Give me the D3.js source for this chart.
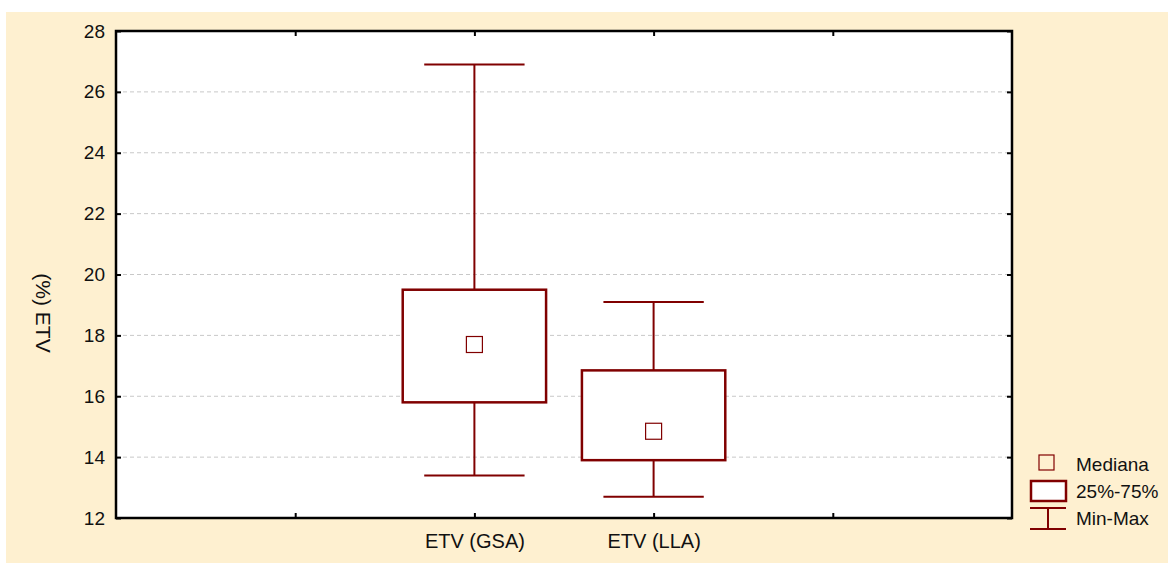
<!DOCTYPE html>
<html lang="pt">
<head>
<meta charset="UTF-8">
<title>ETV box plot</title>
<script src="https://d3js.org/d3.v7.min.js"></script>
<style>
    body { margin: 0; background: #fff; font-family: Arial, "Liberation Sans", sans-serif; }
    svg { display: block; }
</style>
</head>
<body>
<svg></svg>
<script>
    // dados
    const categories = ["ETV (GSA)", "ETV (LLA)"];
    const mins    = [13.4, 12.7];
    const q1s     = [15.8, 13.9];
    const medians = [17.7, 14.85];
    const q3s     = [19.5, 16.85];
    const maxs    = [26.9, 19.1];
    const yTicks  = [12, 14, 16, 18, 20, 22, 24, 26, 28];
    const legendLabels = ["Mediana", "25%-75%", "Min-Max"];

    const W = 1171, H = 563;
    const red = "#800000";
    const font = "Arial, 'Liberation Sans', sans-serif";
    const m = { left: 116, right: 1012, top: 31, bottom: 518 };

    const svg = d3.select("svg").attr("width", W).attr("height", H);

    // fundo creme
    svg.append("rect").attr("x", 6).attr("y", 12).attr("width", 1162).attr("height", 551)
        .attr("fill", "#FEF0D0");

    // área do gráfico
    svg.append("rect").attr("x", m.left).attr("y", m.top)
        .attr("width", m.right - m.left).attr("height", m.bottom - m.top).attr("fill", "#fff");

    // posição das categorias: 5 faixas, categorias em 2 e 3
    const x = d3.scaleLinear().domain([0, 5]).range([m.left, m.right]);
    const y = d3.scaleLinear().domain([12, 28]).range([m.bottom, m.top]);
    const step = x(1) - x(0);
    const catPos = i => x(i + 2);

    // linhas de grade
    svg.append("g").selectAll("line").data(yTicks.slice(1, -1)).join("line")
        .attr("x1", m.left).attr("x2", m.right)
        .attr("y1", d => y(d)).attr("y2", d => y(d))
        .attr("stroke", "#c8c8c8").attr("stroke-width", 1).attr("stroke-dasharray", "4,3");

    // eixos com ticks para dentro
    const axL = svg.append("g").attr("transform", `translate(${m.left},0)`)
        .call(d3.axisLeft(y).tickValues(yTicks).tickSizeInner(-5).tickSizeOuter(0).tickPadding(11));
    const axR = svg.append("g").attr("transform", `translate(${m.right},0)`)
        .call(d3.axisRight(y).tickValues(yTicks).tickSizeInner(-5).tickSizeOuter(0).tickFormat(""));
    const axB = svg.append("g").attr("transform", `translate(0,${m.bottom})`)
        .call(d3.axisBottom(x).tickValues([1, 2, 3, 4]).tickSizeInner(-5).tickSizeOuter(0)
            .tickPadding(16).tickFormat(d => d === 2 ? categories[0] : d === 3 ? categories[1] : ""));
    const axT = svg.append("g").attr("transform", `translate(0,${m.top})`)
        .call(d3.axisTop(x).tickValues([1, 2, 3, 4]).tickSizeInner(-5).tickSizeOuter(0).tickFormat(""));

    [axL, axR, axB, axT].forEach(a => {
        a.attr("font-family", font);
        a.select(".domain").remove();
        a.selectAll(".tick line").attr("stroke", "#000").attr("stroke-width", 2);
        a.selectAll("text").attr("fill", "#111");
    });
    axL.attr("font-size", 19);
    axB.attr("font-size", 20);

    // moldura
    svg.append("rect").attr("x", m.left).attr("y", m.top)
        .attr("width", m.right - m.left).attr("height", m.bottom - m.top)
        .attr("fill", "none").attr("stroke", "#000").attr("stroke-width", 2.5);

    // título do eixo Y
    svg.append("text")
        .attr("transform", `translate(36,313) rotate(90)`)
        .attr("text-anchor", "middle")
        .attr("font-family", font).attr("font-size", 21).attr("fill", "#111").text("(%) ETV");

    // caixas
    const boxW = step * 0.8, capW = step * 0.56;
    const g = svg.append("g").attr("stroke", red).attr("fill", "none");
    categories.forEach((c, i) => {
        const cx = catPos(i);
        g.append("line").attr("x1", cx).attr("x2", cx).attr("y1", y(maxs[i])).attr("y2", y(q3s[i])).attr("stroke-width", 2);
        g.append("line").attr("x1", cx).attr("x2", cx).attr("y1", y(q1s[i])).attr("y2", y(mins[i])).attr("stroke-width", 2);
        g.append("line").attr("x1", cx - capW / 2).attr("x2", cx + capW / 2)
            .attr("y1", y(maxs[i])).attr("y2", y(maxs[i])).attr("stroke-width", 2);
        g.append("line").attr("x1", cx - capW / 2).attr("x2", cx + capW / 2)
            .attr("y1", y(mins[i])).attr("y2", y(mins[i])).attr("stroke-width", 2);
        g.append("rect").attr("x", cx - boxW / 2).attr("y", y(q3s[i]))
            .attr("width", boxW).attr("height", y(q1s[i]) - y(q3s[i]))
            .attr("fill", "#fff").attr("stroke-width", 2.5);
        g.append("rect").attr("x", cx - 8).attr("y", y(medians[i]) - 8)
            .attr("width", 16).attr("height", 16).attr("stroke-width", 1.2);
    });

    // legenda
    const lg = svg.append("g");
    lg.append("rect").attr("x", 1039).attr("y", 455).attr("width", 15).attr("height", 15)
        .attr("fill", "none").attr("stroke", red).attr("stroke-width", 1.2);
    lg.append("rect").attr("x", 1031).attr("y", 481).attr("width", 35).attr("height", 20)
        .attr("fill", "#fff").attr("stroke", red).attr("stroke-width", 2.5);
    lg.append("line").attr("x1", 1030).attr("x2", 1066).attr("y1", 508).attr("y2", 508).attr("stroke", red).attr("stroke-width", 2);
    lg.append("line").attr("x1", 1030).attr("x2", 1066).attr("y1", 529).attr("y2", 529).attr("stroke", red).attr("stroke-width", 2);
    lg.append("line").attr("x1", 1048).attr("x2", 1048).attr("y1", 508).attr("y2", 529).attr("stroke", red).attr("stroke-width", 2);
    lg.selectAll("text").data(legendLabels).join("text")
        .attr("x", 1076).attr("y", (d, i) => 471 + i * 27)
        .attr("font-family", font).attr("font-size", 19).attr("fill", "#111")
        .text(d => d);
</script>
</body>
</html>
